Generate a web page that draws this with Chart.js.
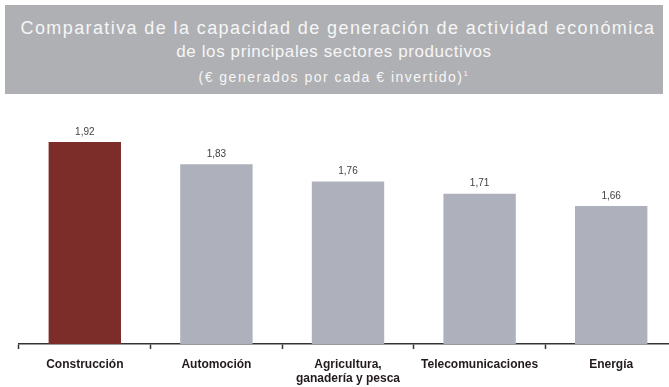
<!DOCTYPE html>
<html lang="es">
<head>
<meta charset="utf-8">
<script src="https://cdn.jsdelivr.net/npm/chart.js@4"></script>
<style>
  html, body { margin: 0; padding: 0; background: #fff; }
  #wrap { position: relative; width: 669px; height: 387px; overflow: hidden; }
  #chart { position: absolute; left: 0; top: 0; }
  #header {
    position: absolute; left: 5px; top: 5px; width: 658px; height: 89px;
    background: #afb0b4; color: #f6f6f6; text-align: center;
    font-family: "Liberation Sans", Arial, sans-serif;
  }
  #header div { position: absolute; left: 0; right: 0; white-space: nowrap; }
  #header .t1 { left: 8px; top: 13px; font-size: 18px; letter-spacing: 1.4px; line-height: 20px; }
  #header .t2 { top: 37px; font-size: 17px; letter-spacing: 0.6px; line-height: 20px; }
  #header .t3 { top: 61px; font-size: 14px; letter-spacing: 1.5px; line-height: 16px; }
</style>
</head>
<body>
<div id="wrap">
  <canvas id="chart" width="690" height="387"></canvas>
  <div id="header">
    <div class="t1">Comparativa de la capacidad de generación de actividad económica</div>
    <div class="t2">de los principales sectores productivos</div>
    <div class="t3">(€ generados por cada € invertido)<sup style="font-size:8px">1</sup></div>
  </div>
</div>
<script>
const sectores = [
    "Construcción",
    "Automoción",
    ["Agricultura,", "ganadería y pesca"],
    "Telecomunicaciones",
    "Energía",
];
const euros_generados = [1.92, 1.83, 1.76, 1.71, 1.66];
const colores = ["#7d2d29", "#aeb1bb", "#aeb1bb", "#aeb1bb", "#aeb1bb"];

// value on top of each bar, written with a decimal comma
const valueLabels = {
    id: "valueLabels",
    afterDatasetsDraw(chart) {
        const ctx = chart.ctx;
        const meta = chart.getDatasetMeta(0);
        ctx.save();
        ctx.font = "10px 'Liberation Sans', Arial, sans-serif";
        ctx.fillStyle = "#3f3f3f";
        ctx.textAlign = "center";
        ctx.textBaseline = "middle";
        meta.data.forEach((bar, i) => {
            const txt = euros_generados[i].toFixed(2).replace(".", ",");
            ctx.fillText(txt, bar.x, bar.y - 10);
        });
        ctx.restore();
    },
};

new Chart(document.getElementById("chart"), {
    type: "bar",
    data: {
        labels: sectores,
        datasets: [
            {
                data: euros_generados,
                backgroundColor: colores,
                categoryPercentage: 1,
                barPercentage: 0.55,
            },
        ],
    },
    options: {
        responsive: false,
        animation: false,
        devicePixelRatio: 1,
        layout: { padding: { left: 19, right: 13, top: 110, bottom: 0 } },
        plugins: {
            legend: { display: false },
            tooltip: { enabled: false },
        },
        scales: {
            y: { display: false, min: 1.1, max: 2.05 },
            x: {
                grid: {
                    display: true,
                    drawOnChartArea: false,
                    tickLength: 5,
                    tickWidth: 1.5,
                    color: "#333",
                    offset: true,
                },
                border: { color: "#333", width: 1.5 },
                ticks: {
                    color: "#221a1d",
                    padding: 8,
                    maxRotation: 0,
                    autoSkip: false,
                    lineHeight: 1.1,
                    font: { family: "'Liberation Sans', Arial, sans-serif", size: 12, weight: "bold" },
                },
                afterFit(scale) {
                    scale.height = 43;
                },
            },
        },
    },
    plugins: [valueLabels],
});
</script>
</body>
</html>
